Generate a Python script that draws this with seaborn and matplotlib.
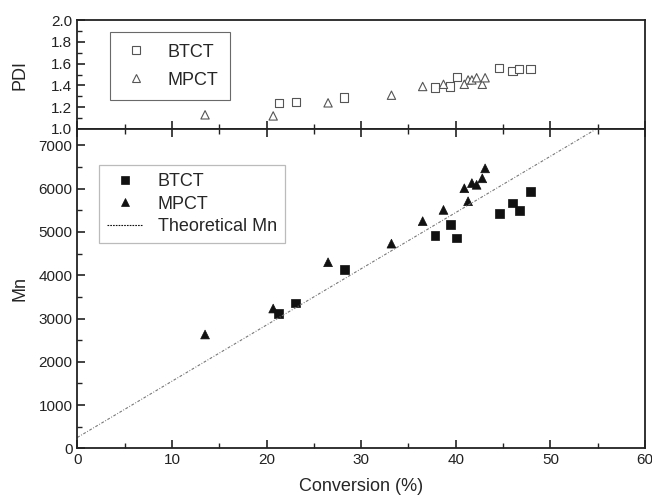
import matplotlib
matplotlib.use("Agg")
import matplotlib.pyplot as plt
from matplotlib.ticker import MultipleLocator
import seaborn as sns
import pandas as pd

# values
btct_conv = [21.3, 23.1, 28.2, 37.8, 39.4, 40.1, 44.6, 46.0, 46.7, 47.9]
btct_mn = [3120, 3360, 4130, 4920, 5170, 4860, 5420, 5670, 5500, 5940]
btct_pdi = [1.24, 1.25, 1.29, 1.38, 1.39, 1.48, 1.56, 1.53, 1.55, 1.55]

mpct_conv = [13.5, 20.7, 26.5, 33.2, 36.5, 38.7, 41.3, 40.9, 41.7, 42.2, 42.8, 43.1]
mpct_mn = [2630, 3230, 4300, 4730, 5250, 5510, 5710, 6010, 6130, 6090, 6240, 6470]
mpct_pdi = [1.13, 1.12, 1.24, 1.31, 1.39, 1.41, 1.45, 1.41, 1.45, 1.47, 1.41, 1.47]

# theoretical Mn line end points
theo_conv = [0, 55]
theo_mn = [250, 7400]

btct = pd.DataFrame({'conv': btct_conv, 'Mn': btct_mn, 'PDI': btct_pdi, 'agent': 'BTCT'})
mpct = pd.DataFrame({'conv': mpct_conv, 'Mn': mpct_mn, 'PDI': mpct_pdi, 'agent': 'MPCT'})
df = pd.concat([btct, mpct], ignore_index=True)
theo = pd.DataFrame({'conv': theo_conv, 'Mn': theo_mn})

sns.set_style('ticks')
plt.rcParams['font.family'] = ['Liberation Sans', 'DejaVu Sans']
plt.rcParams['axes.linewidth'] = 1.3
plt.rcParams['axes.edgecolor'] = '#222222'

fig = plt.figure(figsize=(6.52, 5.0), dpi=100)
L, W = 0.1186, 0.8707
ax_top = fig.add_axes([L, 0.742, W, 0.218])
ax_bot = fig.add_axes([L, 0.1034, W, 0.6386])

markers = {'BTCT': 's', 'MPCT': '^'}

# upper panel: PDI, open markers
sns.scatterplot(data=df, x='conv', y='PDI', style='agent', markers=markers,
                ax=ax_top, s=36, facecolor='white', edgecolor='#555555',
                linewidth=0.8, color='white')
ax_top.set_xlim(0, 60)
ax_top.set_ylim(1.0, 2.0)
ax_top.yaxis.set_major_locator(MultipleLocator(0.2))
ax_top.yaxis.set_minor_locator(MultipleLocator(0.1))
ax_top.xaxis.set_major_locator(MultipleLocator(10))
ax_top.xaxis.set_minor_locator(MultipleLocator(5))
ax_top.tick_params(axis='both', which='both', direction='in', right=False, top=False,
                   labelbottom=False, labelsize=11, colors='#222222')
ax_top.tick_params(which='major', length=6, width=1.2)
ax_top.tick_params(which='minor', length=3.5, width=1)
ax_top.set_xlabel('')
ax_top.set_ylabel('PDI', fontsize=13)
ax_top.yaxis.set_label_coords(-0.086, 0.5)
leg = ax_top.legend(loc='upper left', bbox_to_anchor=(0.058, 0.89), borderaxespad=0,
                    frameon=True, fancybox=False, edgecolor='#444444', fontsize=13,
                    handletextpad=0.9, borderpad=0.65, labelspacing=0.6, handlelength=1.6)
leg.get_frame().set_linewidth(0.8)
for h in leg.legend_handles:
    h.set_markerfacecolor('white')
    h.set_markeredgecolor('#555555')
    h.set_markeredgewidth(0.8)

# lower panel: Mn, filled markers + theoretical line
sns.lineplot(data=theo, x='conv', y='Mn', ax=ax_bot, color='#777777',
             linewidth=0.8, linestyle=(0, (2.5, 1.5, 0.8, 1.5)), label='Theoretical Mn')
sns.scatterplot(data=df, x='conv', y='Mn', style='agent', markers=markers,
                ax=ax_bot, s=40, color='#111111', edgecolor='#111111', linewidth=0.5)
ax_bot.set_xlim(0, 60)
ax_bot.set_ylim(0, 7380)
ax_bot.xaxis.set_major_locator(MultipleLocator(10))
ax_bot.xaxis.set_minor_locator(MultipleLocator(5))
ax_bot.yaxis.set_major_locator(MultipleLocator(1000))
ax_bot.yaxis.set_minor_locator(MultipleLocator(500))
ax_bot.tick_params(axis='both', which='both', direction='in', right=False, top=True,
                   labelsize=11, colors='#222222')
ax_bot.tick_params(which='major', length=6, width=1.2)
ax_bot.tick_params(which='minor', length=3.5, width=1)
ax_bot.set_xlabel('Conversion (%)', fontsize=13, labelpad=8)
ax_bot.set_ylabel('Mn', fontsize=13)
ax_bot.yaxis.set_label_coords(-0.086, 0.5)

handles, labels = ax_bot.get_legend_handles_labels()
order = [labels.index('BTCT'), labels.index('MPCT'), labels.index('Theoretical Mn')]
leg2 = ax_bot.legend([handles[i] for i in order], [labels[i] for i in order],
                     loc='upper left', bbox_to_anchor=(0.038, 0.887), borderaxespad=0,
                     frameon=True, fancybox=False, edgecolor='#aaaaaa', fontsize=13,
                     handletextpad=0.8, borderpad=0.45, labelspacing=0.3, handlelength=2.0)
leg2.get_frame().set_linewidth(0.9)
line_handle = leg2.legend_handles[2]
line_handle.set_color('#111111')
line_handle.set_linestyle((0, (1.5, 1.0)))

fig.savefig('out.png', dpi=100)
